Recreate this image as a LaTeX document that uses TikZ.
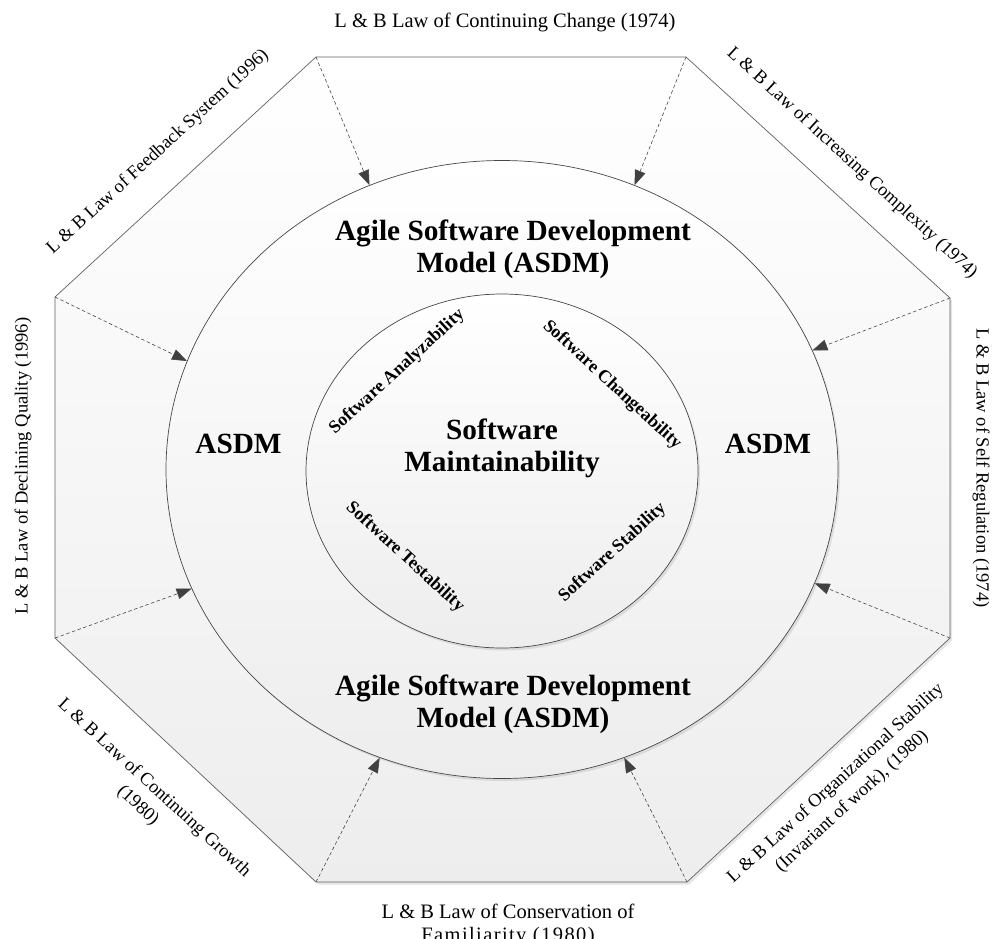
\documentclass[tikz,border=0pt]{standalone}
\usepackage{fontspec}
\setmainfont{Liberation Serif}
\usetikzlibrary{shapes.geometric,arrows.meta,shadows}
\begin{document}
\begin{tikzpicture}[x=1pt,y=1pt,
  shapefill/.style={top color=white, bottom color=black!7},
  shd/.style={drop shadow={shadow xshift=2pt,shadow yshift=-2.5pt,opacity=0.25,fill=black!40}},
  oct/.style={draw=black!62, line width=0.7pt, shapefill, shd},
  ring/.style={ellipse, draw=black!72, line width=0.7pt, inner sep=0pt, shapefill, shd},
  arr/.style={draw=black!72, line width=0.6pt, dash pattern=on 3.5pt off 2.5pt,
              -{Triangle[length=15pt,width=11pt,fill=black!75]}},
  law/.style={inner sep=0pt, font=\fontsize{18.5}{24}\selectfont, align=center},
  hlaw/.style={inner sep=0pt, font=\fontsize{20.5}{23}\selectfont, align=center},
  big/.style={inner sep=0pt, font=\bfseries\fontsize{29.3}{32}\selectfont, align=center},
  small/.style={inner sep=0pt, font=\bfseries\fontsize{18}{21}\selectfont},
]
\useasboundingbox (0,0) rectangle (992,-938);
\fill[white] (0,0) rectangle (992,-938);

% octagon
\coordinate (A) at (316,-57);
\coordinate (B) at (686,-57);
\coordinate (C) at (950,-298);
\coordinate (D) at (950,-638);
\coordinate (E) at (687,-882);
\coordinate (F) at (316,-882);
\coordinate (G) at (55,-638);
\coordinate (H) at (55,-297);
\path[oct] (A) -- (B) -- (C) -- (D) -- (E) -- (F) -- (G) -- (H) -- cycle;

% rings
\node[ring, minimum width=672pt, minimum height=618pt] (outer) at (502,-469.5) {};
\node[ring, minimum width=392pt, minimum height=354pt] (inner) at (502,-471) {};

% arrows
\draw[arr] (A) -- (outer.115);
\draw[arr] (B) -- (outer.65);
\draw[arr] (C) -- (outer.21);
\draw[arr] (D) -- (outer.-20);
\draw[arr] (E) -- (outer.-67);
\draw[arr] (F) -- (outer.-113);
\draw[arr] (G) -- (outer.-159);
\draw[arr] (H) -- (outer.161);

% outer labels
\node[hlaw] (lcc) at (505,-22) {L \& B Law of Continuing Change (1974)};
\node[law, rotate=42.5] (lfs) at (158,-152) {L \& B Law of Feedback System (1996)};
\node[law, rotate=-42.5] (lic) at (852,-163) {L \& B Law of Increasing Complexity (1974)};
\node[law, rotate=-90] (lsr) at (981,-468) {L \& B Law of Self Regulation (1974)};
\node[law, rotate=90] (ldq) at (23,-466) {L \& B Law of Declining Quality (1996)};
\node[law, rotate=-42.5] (lcg) at (146,-797) {L \& B Law of Continuing Growth\\(1980)};
\node[law, rotate=42.5] (los) at (844,-792.5) {L \& B Law of Organizational Stability\\(Invariant of work), (1980)};
\node[hlaw] (lcf) at (508,-924.5) {L \& B Law of Conservation of\\{\addfontfeature{LetterSpace=6.8}Familiarity (1980)}};

% ring texts
\node[big] (asdmtop) at (513,-249) {Agile Software Development\\Model (ASDM)};
\node[big] (asdmbot) at (513,-704) {Agile Software Development\\Model (ASDM)};
\node[big] (asdml) at (238.5,-443.5) {ASDM};
\node[big] (asdmr) at (768,-443.5) {ASDM};
\node[big] (sm) at (502,-448.5) {Software\\Maintainability};

% inner texts
\node[small, rotate=42.5] (san) at (397,-372) {Software Analyzability};
\node[small, rotate=-42.5] (sch) at (612,-385) {Software Changeability};
\node[small, rotate=-42.5] (ste) at (405,-557) {Software Testability};
\node[small, rotate=42.5] (sst) at (612.5,-552.5) {Software Stability};
\end{tikzpicture}
\end{document}
